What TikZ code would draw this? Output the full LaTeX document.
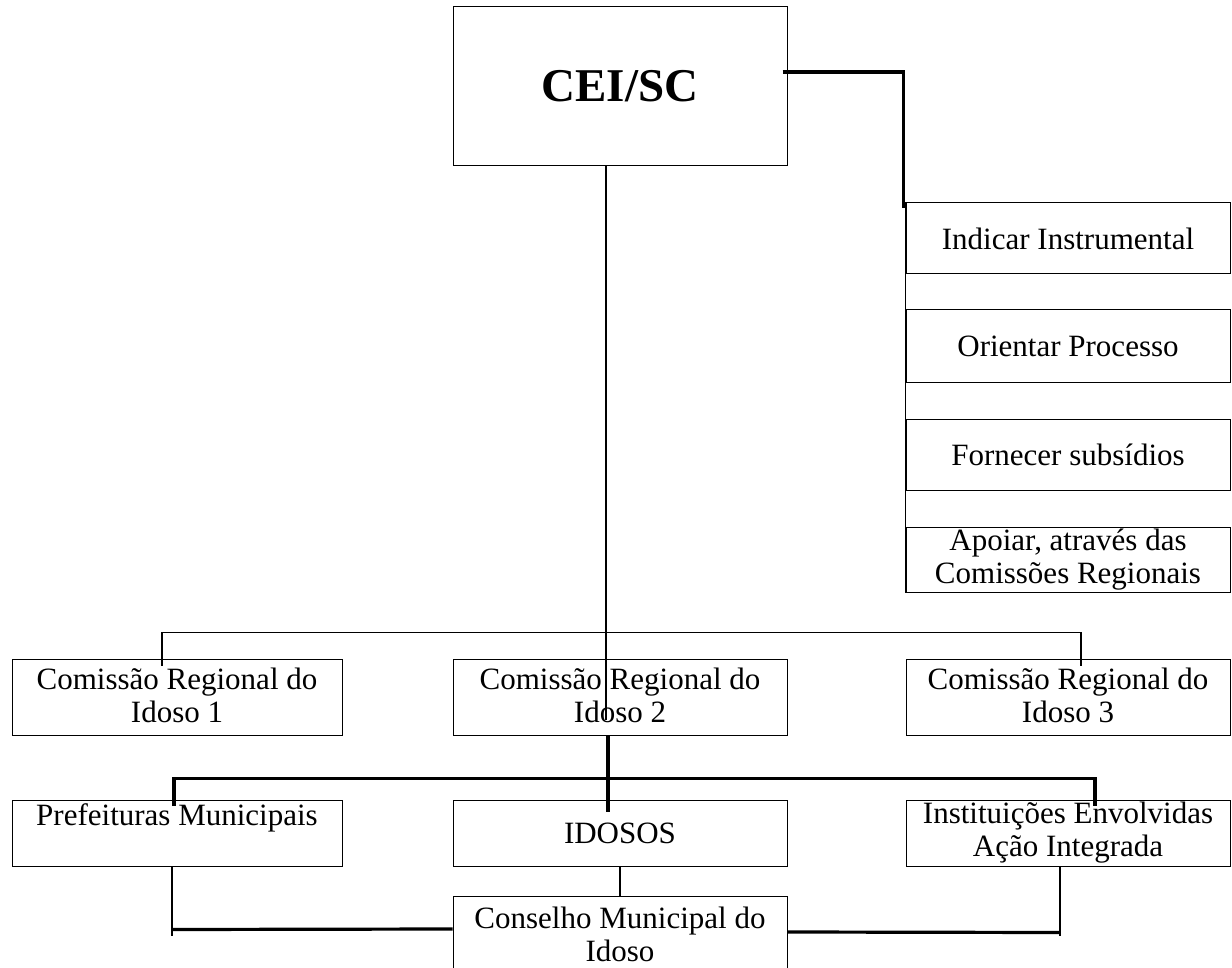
\documentclass[tikz,border=0pt]{standalone}
\usepackage{fontspec}
\setmainfont{Liberation Serif}
\usetikzlibrary{calc}

\tikzset{
  box/.style={draw, line width=0.5pt, align=center, inner sep=0pt, font=\fontsize{15.5}{16.5}\selectfont},
  link/.style={line width=0.8pt},
  thicklink/.style={line width=1.6pt},
}

\begin{document}
\begin{tikzpicture}[x=0.5pt, y=-0.5pt]

    \useasboundingbox (0,0) rectangle (1232,968);

    \node (cei) [box, minimum width=167pt, minimum height=79.5pt, font=\fontsize{23.5}{26}\selectfont\bfseries] at (620,86.5) {CEI/SC};

    % right column
    \foreach \yy/\hh/\t [count=\i] in {238.5/35.5/{Indicar Instrumental}, 346/36/{Orientar Processo}, 454.5/35.5/{Fornecer subsídios}, 559.5/32.5/{Apoiar, através das\\Comissões Regionais}}
    \node (act\i) [box, minimum width=162pt, minimum height=\hh pt] at (1068,\yy) {\t};

    \foreach \xx/\ww [count=\i] in {177/165, 620/167, 1068/162}
    \node (crr\i) [box, minimum width=\ww pt, minimum height=38pt, text depth=2pt] at (\xx,697) {Comissão Regional do\\Idoso \i};

    \node (pref) [box, minimum width=165pt, minimum height=33pt, text depth=18pt] at (177,833) {Prefeituras Municipais};
    \node (idosos) [box, minimum width=167pt, minimum height=33pt] at (620,833) {IDOSOS};
    \node (inst) [box, minimum width=162pt, minimum height=33pt] at (1068,833) {Instituições Envolvidas\\Ação Integrada};
    \node (cons) [box, minimum width=167pt, minimum height=38pt, anchor=north] at (620,896) {Conselho Municipal do\\Idoso};

    \draw[thicklink] ($(cei.east)+(-5,-14.5)$) -| ($(act1.north west)+(-2,6)$);
    \draw[line width=0.5pt] (act1.north west) -- (act4.south west);
    \draw[link] ($(cei.south)+(-14,0)$) -- ($(crr2.south)+(-14,-16)$);
    \draw[link] ($(crr1.north)+(-15,7)$) -- ++(0,-33) -| ($(crr3.north)+(13,7)$);

    \draw[thicklink] ($(crr2.south)+(-12,0)$) -- ($(idosos.north)+(-12,12)$);
    \draw[thicklink] ($(pref.north)+(-3,6)$) -- ++(0,-27) -| ($(inst.north)+(27,6)$);

    \draw[link] ($(pref.south)+(-5,0)$) -- ++(0,69);
    \draw[thicklink] ($(pref.south)+(-5,63)$) -- ($(cons.north west)+(0,33)$);
    \draw[link] (idosos) -- (cons);
    \draw[link] ($(inst.south)+(-8,0)$) -- ++(0,69);
    \draw[thicklink] ($(cons.north east)+(0,36)$) -- ($(inst.south)+(-8,66)$);

\end{tikzpicture}
\end{document}
